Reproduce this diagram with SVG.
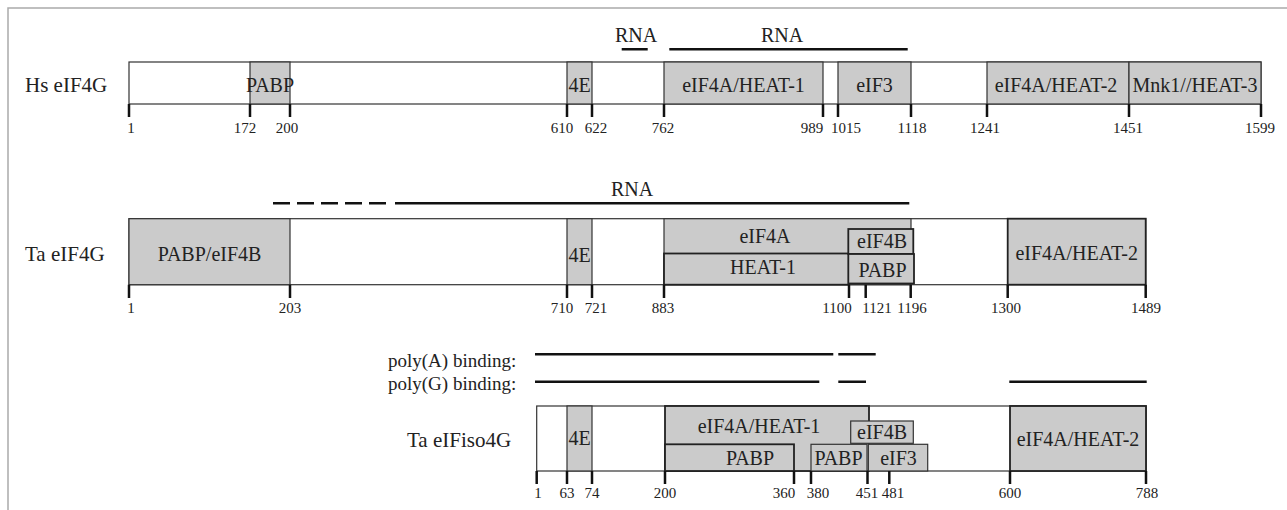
<svg xmlns="http://www.w3.org/2000/svg" width="1287" height="510" viewBox="0 0 1287 510">
<style>
text{font-family:"Liberation Serif","Times New Roman",serif;fill:#222}
.lab{font-size:21px}
.big{font-size:20px;text-anchor:middle}
.num{font-size:15px;text-anchor:middle}
.pl{font-size:19px}
.frame{fill:none;stroke:#aaa;stroke-width:1.5}
.bar{fill:#fff;stroke:#333;stroke-width:1.2}
.dom{fill:#cbcbcb;stroke:#333;stroke-width:1.2}
.domk{fill:#cbcbcb;stroke:#222;stroke-width:1.8}
.tick{stroke:#111;stroke-width:2.5}
.bind{stroke:#111;stroke-width:2.5;fill:none}
</style>
<path class="frame" d="M8,510 V8 H1287"/>

<g id="hs-eif4g">
<text class="lab" x="25" y="92">Hs eIF4G</text>
<rect class="bar" x="129" y="62" width="1132" height="42"/>
<g id="hs-pabp"><rect class="dom" x="250" y="62" width="40" height="42"/><text class="big" x="270" y="92">PABP</text></g>
<g id="hs-4e"><rect class="dom" x="567" y="62" width="25" height="42"/><text class="big" x="579.5" y="92">4E</text></g>
<g id="hs-heat1"><rect class="dom" x="664" y="62" width="159" height="42"/><text class="big" x="743.5" y="92">eIF4A/HEAT-1</text></g>
<g id="hs-eif3"><rect class="dom" x="838" y="62" width="73" height="42"/><text class="big" x="874.5" y="92">eIF3</text></g>
<g id="hs-heat2"><rect class="dom" x="987" y="62" width="142" height="42"/><text class="big" x="1056" y="92">eIF4A/HEAT-2</text></g>
<g id="hs-heat3"><rect class="dom" x="1129" y="62" width="132" height="42"/><text class="big" x="1195" y="92">Mnk1//HEAT-3</text></g>
<g id="hs-ticks">
<path class="tick" d="M129,104V117M250,104V117M290,104V117M567,104V117M592,104V117M664,104V117M823,104V117M838,104V117M911,104V117M987,104V117M1129,104V117M1261,104V117"/>
<text class="num" x="131" y="133">1</text>
<text class="num" x="245" y="133">172</text>
<text class="num" x="287" y="133">200</text>
<text class="num" x="562" y="133">610</text>
<text class="num" x="596" y="133">622</text>
<text class="num" x="663" y="133">762</text>
<text class="num" x="812" y="133">989</text>
<text class="num" x="846" y="133">1015</text>
<text class="num" x="912" y="133">1118</text>
<text class="num" x="985" y="133">1241</text>
<text class="num" x="1128" y="133">1451</text>
<text class="num" x="1260" y="133">1599</text>
</g>
</g>

<g id="ta-eif4g">
<text class="lab" x="25" y="261">Ta eIF4G</text>
<rect class="bar" x="129" y="218.7" width="1016.7" height="66"/>
<g id="ta-pabp-eif4b"><rect class="dom" x="129" y="218.7" width="161" height="66"/><text class="big" x="209.5" y="261">PABP/eIF4B</text></g>
<g id="ta-4e"><rect class="dom" x="567" y="218.7" width="25" height="66"/><text class="big" x="579.5" y="261.5">4E</text></g>
<g id="ta-eif4a"><rect class="dom" x="664" y="218.7" width="247" height="66"/><text class="big" x="765" y="243">eIF4A</text></g>
<g id="ta-heat1"><rect class="domk" x="664" y="253.5" width="185" height="31.2"/><text class="big" x="763" y="274">HEAT-1</text></g>
<g id="ta-eif4b"><rect class="domk" x="848.3" y="229" width="65" height="25"/><text class="big" x="882" y="248">eIF4B</text></g>
<g id="ta-pabp"><rect class="domk" x="848.3" y="254" width="65.7" height="29.5"/><text class="big" x="882.5" y="276.5">PABP</text></g>
<g id="ta-heat2"><rect class="domk" x="1007.7" y="218.7" width="138" height="66"/><text class="big" x="1076.7" y="260">eIF4A/HEAT-2</text></g>
<g id="ta-ticks">
<path class="tick" d="M129,284.7V298M290,284.7V298M567,284.7V298M592,284.7V298M664,284.7V298M849,284.7V298M865.7,284.7V298M910.7,284.7V298M1007.7,284.7V298M1145.7,284.7V298"/>
<text class="num" x="131" y="313">1</text>
<text class="num" x="290" y="313">203</text>
<text class="num" x="562" y="313">710</text>
<text class="num" x="596" y="313">721</text>
<text class="num" x="663" y="313">883</text>
<text class="num" x="837" y="313">1100</text>
<text class="num" x="877" y="313">1121</text>
<text class="num" x="912" y="313">1196</text>
<text class="num" x="1006" y="313">1300</text>
<text class="num" x="1146" y="313">1489</text>
</g>
</g>

<g id="ta-eifiso4g">
<text class="lab" x="407" y="447">Ta eIFiso4G</text>
<rect class="bar" x="536.7" y="406" width="609.3" height="65"/>
<g id="iso-4e"><rect class="dom" x="567" y="406" width="25" height="65"/><text class="big" x="579.5" y="445">4E</text></g>
<g id="iso-heat1"><rect class="domk" x="665" y="406" width="204" height="65"/><text class="big" x="759" y="433">eIF4A/HEAT-1</text></g>
<g id="iso-pabp1"><rect class="domk" x="665" y="444.3" width="129" height="26.7"/><text class="big" x="750" y="465">PABP</text></g>
<g id="iso-eif4b"><rect class="dom" x="850.7" y="421" width="62.6" height="22.3"/><text class="big" x="882" y="439">eIF4B</text></g>
<g id="iso-pabp2"><rect class="dom" x="811" y="444.3" width="56" height="26.7"/><text class="big" x="838.5" y="465">PABP</text></g>
<g id="iso-eif3"><rect class="dom" x="868.3" y="444.3" width="59.4" height="26.7"/><text class="big" x="898.5" y="465">eIF3</text></g>
<g id="iso-heat2"><rect class="domk" x="1010" y="406" width="136" height="65"/><text class="big" x="1078" y="446">eIF4A/HEAT-2</text></g>
<g id="iso-ticks">
<path class="tick" d="M536.7,471V484M567,471V484M592,471V484M665,471V484M794,471V484M811,471V484M867.5,471V484M889.3,471V484M1010,471V484M1146,471V484"/>
<text class="num" x="538" y="498">1</text>
<text class="num" x="567" y="498">63</text>
<text class="num" x="592" y="498">74</text>
<text class="num" x="665" y="498">200</text>
<text class="num" x="784" y="498">360</text>
<text class="num" x="818" y="498">380</text>
<text class="num" x="867" y="498">451</text>
<text class="num" x="893" y="498">481</text>
<text class="num" x="1010" y="498">600</text>
<text class="num" x="1147" y="498">788</text>
</g>
</g>

<g id="binding-lines">
<text class="big" x="636" y="42">RNA</text>
<text class="big" x="782" y="42">RNA</text>
<path class="bind" d="M621.7,49.3H647.7M669.3,49.3H907.7"/>
<text class="big" x="632" y="196">RNA</text>
<path class="bind" d="M273,203.3H386" stroke-width="2" stroke-dasharray="17 7"/>
<path class="bind" d="M395,203.3H909.3"/>
<text class="pl" x="388" y="367">poly(A) binding:</text>
<text class="pl" x="388" y="390">poly(G) binding:</text>
<path class="bind" d="M535,354.3H833.3M838.3,354.3H875.7M535,381.7H819.3M838.3,381.7H866M1009.3,381.7H1146.7"/>
</g>
</svg>
